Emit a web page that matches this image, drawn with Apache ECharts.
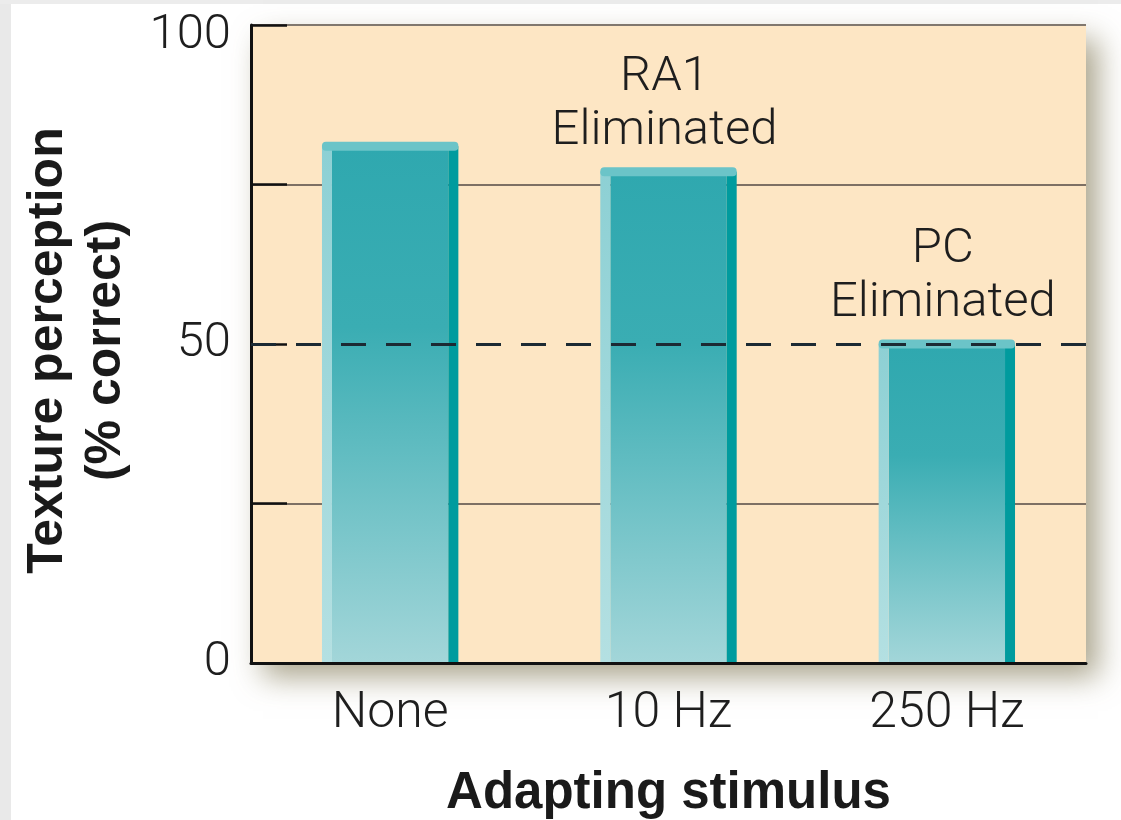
<!DOCTYPE html>
<html>
<head>
<meta charset="utf-8">
<script src="https://cdn.jsdelivr.net/npm/echarts@6/dist/echarts.min.js"></script>
<style>
  html, body { margin: 0; padding: 0; background: #ffffff; }
  #chart { width: 1121px; height: 820px; }
</style>
</head>
<body>
<div id="chart"></div>
<script>
// Texture perception after different adapting stimuli
const categories = ['None', '10 Hz', '250 Hz'];
const textureCorrect = [81, 77, 50];
const barNotes = ['', 'RA1\nEliminated', 'PC\nEliminated'];
const yTickLabels = [0, 50, 100];
const chanceLevel = 50;

const lightFont = 'Roboto, "Liberation Sans", sans-serif';
const boldFont = '"Liberation Sans", Arial, sans-serif';

const chart = echarts.init(document.getElementById('chart'));

function renderBar(params, api) {
  const cat = api.value(0);
  const val = api.value(1);
  const top = api.coord([cat, val]);
  const base = api.coord([cat, 0]);
  const band = api.size([1, 0])[0];
  const w = band * 0.49;
  const left = top[0] - w / 2;
  const edge = 10;
  const capH = 9;
  const h = base[1] - top[1];
  const children = [
    {
      type: 'rect',
      shape: { x: left + edge, y: top[1], width: w - 2 * edge, height: h },
      style: {
        fill: new echarts.graphic.LinearGradient(0, 0, 0, 1, [
          { offset: 0, color: '#2fa8af' },
          { offset: 0.35, color: '#3aadb3' },
          { offset: 1, color: '#a3d6d9' }
        ])
      }
    },
    {
      type: 'rect',
      shape: { x: left, y: top[1], width: edge, height: h },
      style: {
        fill: new echarts.graphic.LinearGradient(0, 0, 0, 1, [
          { offset: 0, color: '#8dd0d4' },
          { offset: 1, color: '#b4e0e2' }
        ])
      }
    },
    {
      type: 'rect',
      shape: { x: left + w - edge, y: top[1], width: edge, height: h },
      style: { fill: '#009b9e' }
    },
    {
      type: 'rect',
      shape: { x: left, y: top[1] - capH / 2, width: w, height: capH, r: 4 },
      style: { fill: '#6bc4c8' }
    }
  ];
  const note = barNotes[params.dataIndex];
  if (note) {
    children.push({
      type: 'text',
      style: {
        text: note,
        x: top[0] - 4,
        y: top[1] - 13,
        align: 'center',
        verticalAlign: 'bottom',
        fontSize: 49,
        fontWeight: 300,
        fontFamily: lightFont,
        lineHeight: 54,
        fill: '#1e1e1e'
      }
    });
  }
  return { type: 'group', children: children };
}

const option = {
  backgroundColor: '#ffffff',
  animation: false,
  graphic: [
    { type: 'rect', left: 0, top: 0, shape: { width: 11, height: 820 }, style: { fill: '#e9e9e9' }, z: -1 },
    { type: 'rect', left: 0, top: 0, shape: { width: 1121, height: 4 }, style: { fill: '#ececec' }, z: -1 }
  ],
  grid: {
    left: 251, right: 35, top: 25, bottom: 157,
    outerBoundsMode: 'none',
    containLabel: false,
    show: true,
    backgroundColor: '#fde6c4',
    borderWidth: 0,
    shadowColor: 'rgba(115,105,65,0.6)',
    shadowBlur: 28,
    shadowOffsetX: 12,
    shadowOffsetY: 14
  },
  xAxis: {
    type: 'category',
    data: categories,
    z: 10,
    axisLine: { lineStyle: { color: '#111111', width: 3 } },
    axisTick: { show: false },
    axisLabel: {
      fontSize: 50, fontWeight: 300, fontFamily: lightFont,
      color: '#1e1e1e', margin: 26
    },
    splitLine: { show: false },
    name: 'Adapting stimulus',
    nameLocation: 'middle',
    nameGap: 105,
    nameTextStyle: { fontSize: 51, fontWeight: 'bold', fontFamily: boldFont, color: '#1a1a1a' }
  },
  yAxis: {
    type: 'value',
    min: 0, max: 100, interval: 25,
    axisLine: { show: true, lineStyle: { color: '#111111', width: 3 } },
    axisTick: { show: true, inside: true, length: 36, lineStyle: { color: '#111111', width: 2.5 } },
    axisLabel: {
      fontSize: 49, fontWeight: 300, fontFamily: lightFont, color: '#1e1e1e', margin: 20,
      formatter: function (v) {
        if (yTickLabels.indexOf(v) < 0) return '';
        return v === 100 ? '{top|' + v + '}' : String(v);
      },
      rich: {
        top: { fontSize: 49, fontWeight: 300, fontFamily: lightFont, color: '#1e1e1e', padding: [22, 0, 0, 0] }
      }
    },
    splitLine: {
      show: true,
      lineStyle: { color: ['#6d6258', '#7d7064', 'rgba(0,0,0,0)', '#7d7064', '#80776e'], width: 2 }
    },
    name: 'Texture perception\n(% correct)',
    nameLocation: 'middle',
    nameRotate: 90,
    nameGap: 116,
    nameTextStyle: {
      fontSize: 50, fontWeight: 'bold', fontFamily: boldFont, color: '#1a1a1a',
      lineHeight: 58, padding: [0, 13, 0, 0]
    }
  },
  series: [{
    type: 'custom',
    renderItem: renderBar,
    data: textureCorrect.map(function (v, i) { return [i, v]; }),
    encode: { x: 0, y: 1 },
    markLine: {
      silent: true,
      symbol: 'none',
      z: 5,
      label: { show: false },
      lineStyle: { type: [25, 20], color: '#1c2a33', width: 3 },
      data: [{ yAxis: chanceLevel }]
    }
  }]
};

chart.setOption(option);
</script>
</body>
</html>
